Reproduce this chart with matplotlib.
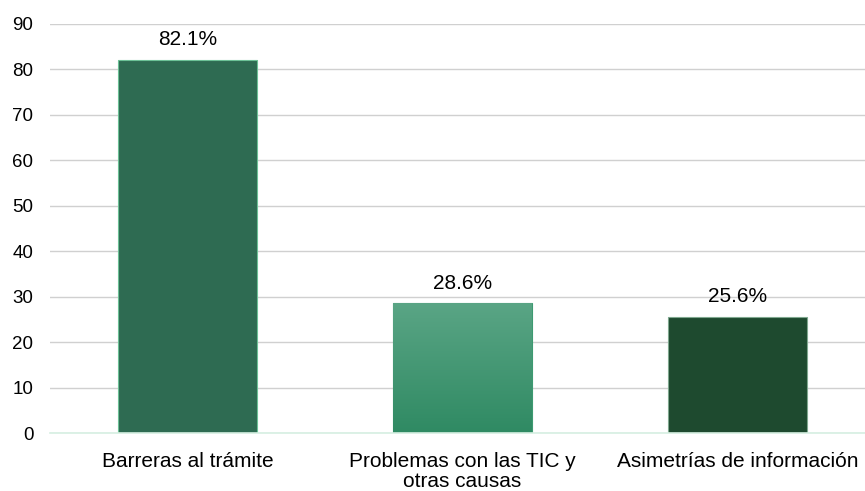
import matplotlib

matplotlib.use("Agg")
import matplotlib.pyplot as plt
import numpy as np
from matplotlib.colors import LinearSegmentedColormap

plt.rcParams["font.family"] = ["Liberation Sans", "DejaVu Sans"]

categories = ["Barreras al trámite", "Problemas con las TIC y\notras causas",
              "Asimetrías de información"]
values = [82.1, 28.6, 25.6]
labels = ["82.1%", "28.6%", "25.6%"]
colors = ["#2e6b52", "#3d9a71", "#1e4a2f"]
edges = ["#6cc196", "#3d9a71", "#7fa88f"]

fig = plt.figure(figsize=(8.65, 4.91), dpi=100)
# plot area runs slightly past the right edge, as in the source
ax = fig.add_axes([50 / 865, 58 / 491, 825 / 865, 409 / 491])

x = np.arange(len(categories))
bars = ax.bar(x, values, width=0.505, color=colors, edgecolor=edges,
              linewidth=0.8, zorder=3)

# vertical gradient on the middle bar
b = bars[1]
cmap = LinearSegmentedColormap.from_list("g", ["#2f8a63", "#5aa585"])
grad = np.linspace(0, 1, 256).reshape(-1, 1)
im = ax.imshow(grad, cmap=cmap, origin="lower", aspect="auto", zorder=3.5,
               extent=[b.get_x(), b.get_x() + b.get_width(), 0, b.get_height()])
im.set_clip_path(b)

for xi, v, lab in zip(x, values, labels):
    ax.annotate(lab, (xi, v), textcoords="offset points", xytext=(0, 7.5),
                ha="center", va="bottom", fontsize=15, color="#000000")

ax.set_xlim(-0.5, 2.5)
ax.set_ylim(0, 90)
ax.set_yticks(range(0, 91, 10))
ax.set_xticks(x)
ax.set_xticklabels(categories, fontsize=15, linespacing=1.08)
ax.tick_params(axis="y", labelsize=13.5, length=0, pad=12)
ax.tick_params(axis="x", length=0, pad=13.5)
ax.grid(axis="y", color="#d0d0d0", linewidth=1, zorder=0)
for s in ["top", "right", "left"]:
    ax.spines[s].set_visible(False)
ax.spines["bottom"].set_color("#d6efe2")
ax.spines["bottom"].set_linewidth(1.2)
ax.spines["bottom"].set_zorder(4)

fig.savefig("out.png", dpi=100)
